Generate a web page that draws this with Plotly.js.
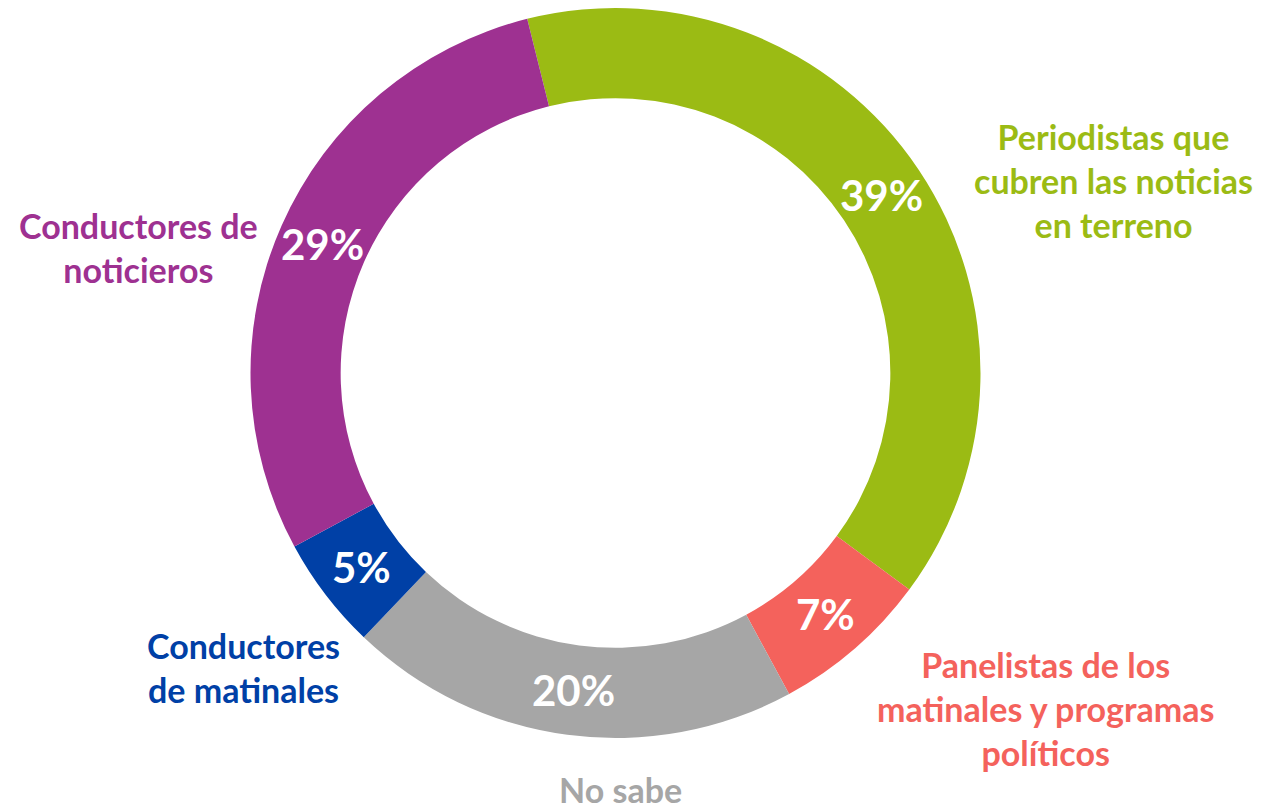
<!DOCTYPE html>
<html>
<head>
<meta charset="utf-8">
<script src="https://cdn.plot.ly/plotly-3.0.1.min.js"></script>
<style>html,body{margin:0;padding:0;background:#fff;}#chart{width:1266px;height:810px;}</style>
</head>
<body>
<div id="chart"></div>
<script>
const categories = ["Periodistas que cubren las noticias en terreno", "Panelistas de los matinales y programas políticos", "No sabe", "Conductores de matinales", "Conductores de noticieros"];
const displayLabels = ["Periodistas que<br>cubren las noticias<br>en terreno", "Panelistas de los<br>matinales y programas<br>políticos", "No sabe", "Conductores<br>de matinales", "Conductores de<br>noticieros"];
const values = [39, 7, 20, 5, 29];
const colors = ["#9BBB14", "#F4625C", "#A6A6A6", "#0040A6", "#9E3191"];
const labelPos = [[1113, 180], [1045, 708], [620, 789], [243, 667], [138, 247]];

const W = 1266, H = 810, T = 8, B = 72;
const plotH = H - T - B;
const CX = 615.5, CY = T + plotH / 2, R = plotH / 2, HOLE = 0.753, ROT = -14;

const trace = {
  type: 'pie',
  labels: categories,
  values: values,
  sort: false,
  direction: 'clockwise',
  rotation: ROT,
  hole: HOLE,
  marker: {colors: colors, line: {width: 0}},
  textinfo: 'none',
  hoverinfo: 'label+percent',
  showlegend: false,
  domain: {x: [0, CX * 2 / W], y: [0, 1]}
};

const total = values.reduce((a, b) => a + b, 0);
const rMid = R * (1 + HOLE) / 2;
let cum = 0;
const pctAnn = values.map((v) => {
  const mid = ROT + 360 * (cum + v / 2) / total;
  cum += v;
  const a = mid * Math.PI / 180;
  const px = CX + rMid * Math.sin(a);
  const py = CY - rMid * Math.cos(a);
  return {
    text: '<b>' + Math.round(100 * v / total) + '%</b>',
    xref: 'paper', yref: 'paper',
    x: px / W, y: (H - B - py) / plotH,
    xanchor: 'center', yanchor: 'middle', showarrow: false,
    font: {family: 'Lato, sans-serif', size: 42, color: '#ffffff'}
  };
});

const labelAnn = displayLabels.map((t, i) => ({
  text: '<b>' + t + '</b>',
  xref: 'paper', yref: 'paper',
  x: labelPos[i][0] / W,
  y: (H - B - labelPos[i][1]) / plotH,
  xanchor: 'center', yanchor: 'middle',
  showarrow: false,
  align: 'center',
  font: {family: 'Lato, sans-serif', size: 34, color: colors[i]}
}));

const layout = {
  width: W, height: H,
  margin: {l: 0, r: 0, t: T, b: B},
  paper_bgcolor: '#ffffff',
  plot_bgcolor: '#ffffff',
  annotations: pctAnn.concat(labelAnn)
};

Plotly.newPlot('chart', [trace], layout, {displayModeBar: false, staticPlot: true});
</script>
</body>
</html>
